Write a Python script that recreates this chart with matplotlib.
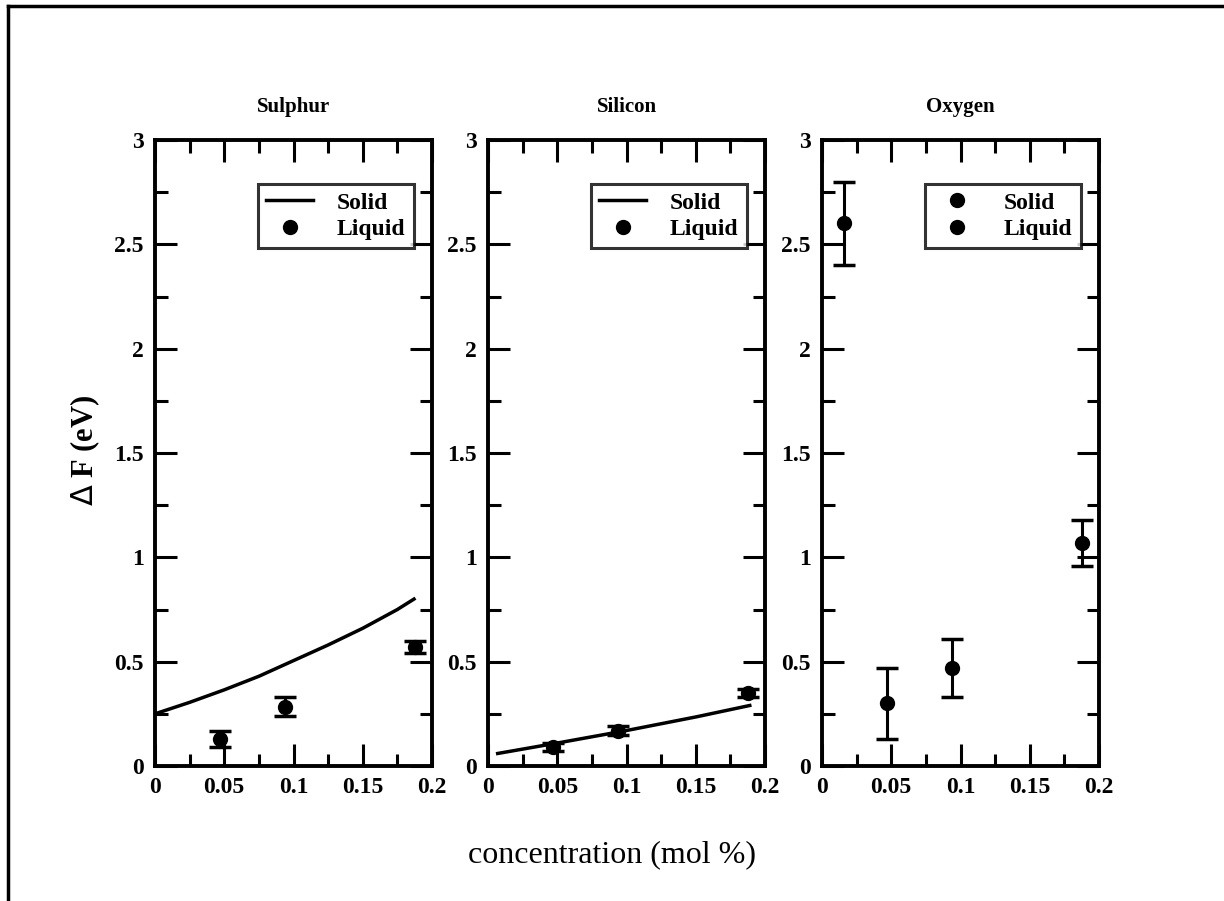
import numpy as np
import matplotlib
matplotlib.use('Agg')
import matplotlib.pyplot as plt
from matplotlib.lines import Line2D
from matplotlib.ticker import MultipleLocator

plt.rcParams['font.family'] = ['Liberation Serif', 'DejaVu Serif']

# panel titles
titles = ['Sulphur', 'Silicon', 'Oxygen']

# Sulphur: solid curve and liquid points
s_solid_x = [0.0, 0.025, 0.05, 0.075, 0.1, 0.125, 0.15, 0.175, 0.187]
s_solid_y = [0.25, 0.305, 0.365, 0.43, 0.505, 0.58, 0.66, 0.75, 0.80]
s_liq_x = [0.047, 0.094, 0.188]
s_liq_y = [0.13, 0.285, 0.57]
s_liq_err = [0.04, 0.045, 0.03]

# Silicon
si_solid_x = [0.007, 0.05, 0.1, 0.15, 0.189]
si_solid_y = [0.06, 0.11, 0.17, 0.235, 0.29]
si_liq_x = [0.047, 0.094, 0.188]
si_liq_y = [0.09, 0.17, 0.35]
si_liq_err = [0.02, 0.02, 0.02]

# Oxygen: only points
o_x = [0.016, 0.047, 0.094, 0.188]
o_y = [2.6, 0.30, 0.47, 1.07]
o_err = [0.2, 0.17, 0.14, 0.11]

xticks = [0, 0.05, 0.1, 0.15, 0.2]
xticklabels = ['0', '0.05', '0.1', '0.15', '0.2']
yticks = [0, 0.5, 1, 1.5, 2, 2.5, 3]
yticklabels = ['0', '0.5', '1', '1.5', '2', '2.5', '3']

fig = plt.figure(figsize=(12.24, 9.01), dpi=100)

lefts = [155 / 1224, 488 / 1224, 822 / 1224]
width = 277 / 1224
bottom = 1 - 766 / 901
height = 626 / 901

axes = [fig.add_axes([l, bottom, width, height]) for l in lefts]

ebkw = dict(fmt='o', color='black', ms=10, elinewidth=2.2, capsize=8, capthick=2.5)

line_h = Line2D([], [], color='black', lw=2.5)
dot_h = Line2D([], [], color='black', marker='o', ms=10, ls='none')

# Sulphur
ax = axes[0]
ax.plot(s_solid_x, s_solid_y, color='black', lw=2.5)
ax.errorbar(s_liq_x, s_liq_y, yerr=s_liq_err, **ebkw)
handles = [[line_h, dot_h]]

# Silicon
ax = axes[1]
ax.plot(si_solid_x, si_solid_y, color='black', lw=2.5)
ax.errorbar(si_liq_x, si_liq_y, yerr=si_liq_err, **ebkw)
handles.append([line_h, dot_h])

# Oxygen
ax = axes[2]
ax.errorbar(o_x, o_y, yerr=o_err, **ebkw)
handles.append([dot_h, dot_h])

for ax, t, hs in zip(axes, titles, handles):
    ax.set_xlim(0, 0.2)
    ax.set_ylim(0, 3)
    ax.set_xticks(xticks)
    ax.set_xticklabels(xticklabels)
    ax.set_yticks(yticks)
    ax.set_yticklabels(yticklabels)
    ax.xaxis.set_minor_locator(MultipleLocator(0.025))
    ax.yaxis.set_minor_locator(MultipleLocator(0.25))
    ax.tick_params(which='both', direction='in', top=True, right=True,
                   labelsize=17, width=2.2, pad=8)
    ax.tick_params(which='major', length=16)
    ax.tick_params(which='minor', length=9)
    for sp in ax.spines.values():
        sp.set_linewidth(2.8)
    ax.set_title(t, fontsize=15, fontweight='bold', pad=20)
    for lab in ax.get_xticklabels() + ax.get_yticklabels():
        lab.set_fontweight('bold')
    leg = ax.legend(hs, ['Solid', 'Liquid'], loc='upper right',
                    bbox_to_anchor=(0.935, 0.93), fontsize=17,
                    frameon=True, fancybox=False, edgecolor='black',
                    handlelength=2.0, borderpad=0.35, labelspacing=0.2,
                    handletextpad=1.0, borderaxespad=0)
    leg.get_frame().set_linewidth(2.2)
    for txt in leg.get_texts():
        txt.set_fontweight('bold')

fig.text(85 / 1224, 1 - 450 / 901, r'$\Delta$ F (eV)', rotation=90, fontsize=22,
         fontweight='bold', ha='center', va='center')
fig.text(0.5, 1 - 855 / 901, 'concentration (mol %)', fontsize=23,
         ha='center', va='center')

# page frame (scan border)
fig.add_artist(Line2D([8 / 1224, 8 / 1224], [0, 1 - 6 / 901], color='black', lw=2.5))
fig.add_artist(Line2D([8 / 1224, 1], [1 - 6 / 901, 1 - 6 / 901], color='black', lw=2.5))

fig.savefig('out.png', dpi=100)
